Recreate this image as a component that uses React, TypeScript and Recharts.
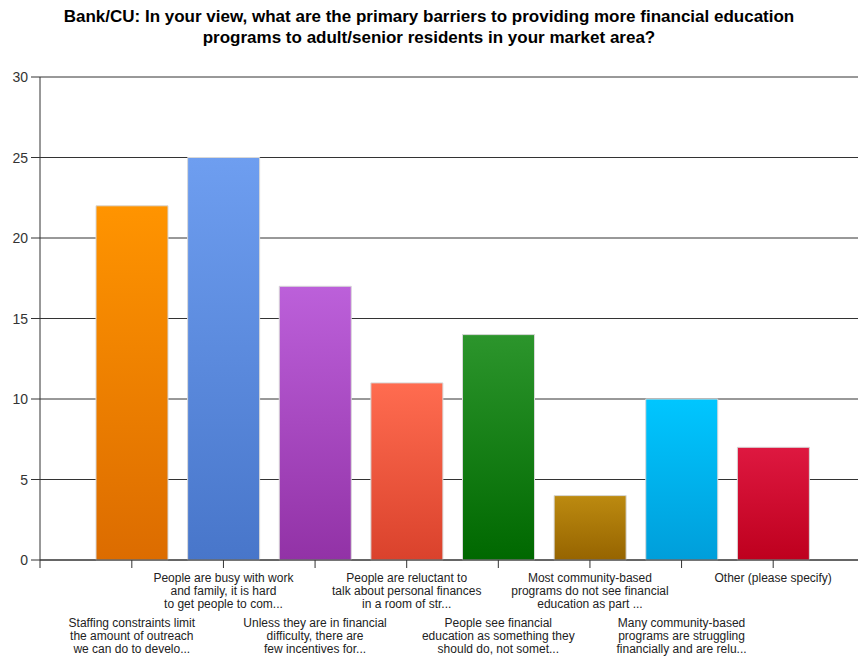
import React from "react";
import { BarChart, Bar, XAxis, YAxis, CartesianGrid, Cell } from "recharts";

const categories: string[][] = [
  ["Staffing constraints limit", "the amount of outreach", "we can do to develo..."],
  ["People are busy with work", "and family, it is hard", "to get people to com..."],
  ["Unless they are in financial", "difficulty, there are", "few incentives for..."],
  ["People are reluctant to", "talk about personal finances", "in a room of str..."],
  ["People see financial", "education as something they", "should do, not somet..."],
  ["Most community-based", "programs do not see financial", "education as part ..."],
  ["Many community-based", "programs are struggling", "financially and are relu..."],
  ["Other (please specify)"],
];
const values: number[] = [22, 25, 17, 11, 14, 4, 10, 7];
const yTicks: number[] = [0, 5, 10, 15, 20, 25, 30];
const topColors: string[] = ["#FF9400", "#6E9EF0", "#BC60DA", "#FF6C50", "#2C952C", "#BC8A10", "#00C6FF", "#DE1840"];
const bottomColors: string[] = ["#DC6C00", "#4876CA", "#9232A6", "#DA422C", "#006800", "#966400", "#009EDA", "#BE001E"];

const data = categories.map((c, i) => ({ name: String(i), value: values[i] }));

const FONT = "'Liberation Sans', Arial, sans-serif";
const TICK_SIZE = 9;
const TICK_MARGIN = 2;

const XTick = (props: any) => {
  const { x, y, payload } = props;
  const idx = Number(payload.value);
  const lines = categories[idx];
  const odd = idx % 2 === 1;
  const startY = y + (odd ? 14 : 59);
  return (
    <g>
      <line x1={x} y1={y - 8} x2={x} y2={y} stroke="#333" strokeWidth={1} />
      {lines.map((l, k) => (
        <text key={k} x={x} y={startY + k * 13} textAnchor="middle" fontSize={12} fill="#222" fontFamily={FONT}>
          {l}
        </text>
      ))}
    </g>
  );
};

const YTick = (props: any) => {
  const { x, y, payload } = props;
  const axisX = x + TICK_SIZE + TICK_MARGIN;
  return (
    <g>
      <line x1={axisX - TICK_SIZE} y1={y} x2={axisX} y2={y} stroke="#333" strokeWidth={1} />
      {payload.value === 0 && <line x1={axisX} y1={y} x2={axisX} y2={y + 8} stroke="#333" strokeWidth={1} />}
      <text x={x - 1} y={y} dy={5} textAnchor="end" fontSize={14} fill="#333" fontFamily={FONT}>
        {payload.value}
      </text>
    </g>
  );
};

export default function App() {
  return (
    <div style={{ position: "absolute", left: 0, top: 0, width: 858, height: 660, background: "#fff" }}>
      <div style={{ position: "absolute", left: 0, top: 6, width: 858, textAlign: "center", fontFamily: FONT, fontWeight: "bold", fontSize: 17, lineHeight: "21px", color: "#000" }}>
        Bank/CU: In your view, what are the primary barriers to providing more financial education
        <br />
        programs to adult/senior residents in your market area?
      </div>
      <BarChart width={858} height={660} data={data} margin={{ top: 77, right: 0, bottom: 0, left: 0 }}>
        <defs>
          {topColors.map((c, i) => (
            <linearGradient key={i} id={`g${i}`} x1="0" y1="0" x2="0" y2="1">
              <stop offset="0%" stopColor={c} />
              <stop offset="100%" stopColor={bottomColors[i]} />
            </linearGradient>
          ))}
        </defs>
        <CartesianGrid vertical={false} stroke="#333" strokeWidth={1} />
        <XAxis
          dataKey="name"
          height={100}
          padding={{ left: 46, right: 39 }}
          axisLine={{ stroke: "#333" }}
          tickLine={false}
          tick={<XTick />}
          interval={0}
        />
        <YAxis
          width={40}
          domain={[0, 30]}
          ticks={yTicks}
          axisLine={{ stroke: "#333" }}
          tickLine={false}
          tickSize={TICK_SIZE}
          tickMargin={TICK_MARGIN}
          tick={<YTick />}
        />
        <Bar dataKey="value" barSize={72} stroke="#d8d8d8" strokeWidth={1} isAnimationActive={false}>
          {data.map((d, i) => (
            <Cell key={i} fill={`url(#g${i})`} />
          ))}
        </Bar>
      </BarChart>
    </div>
  );
}
